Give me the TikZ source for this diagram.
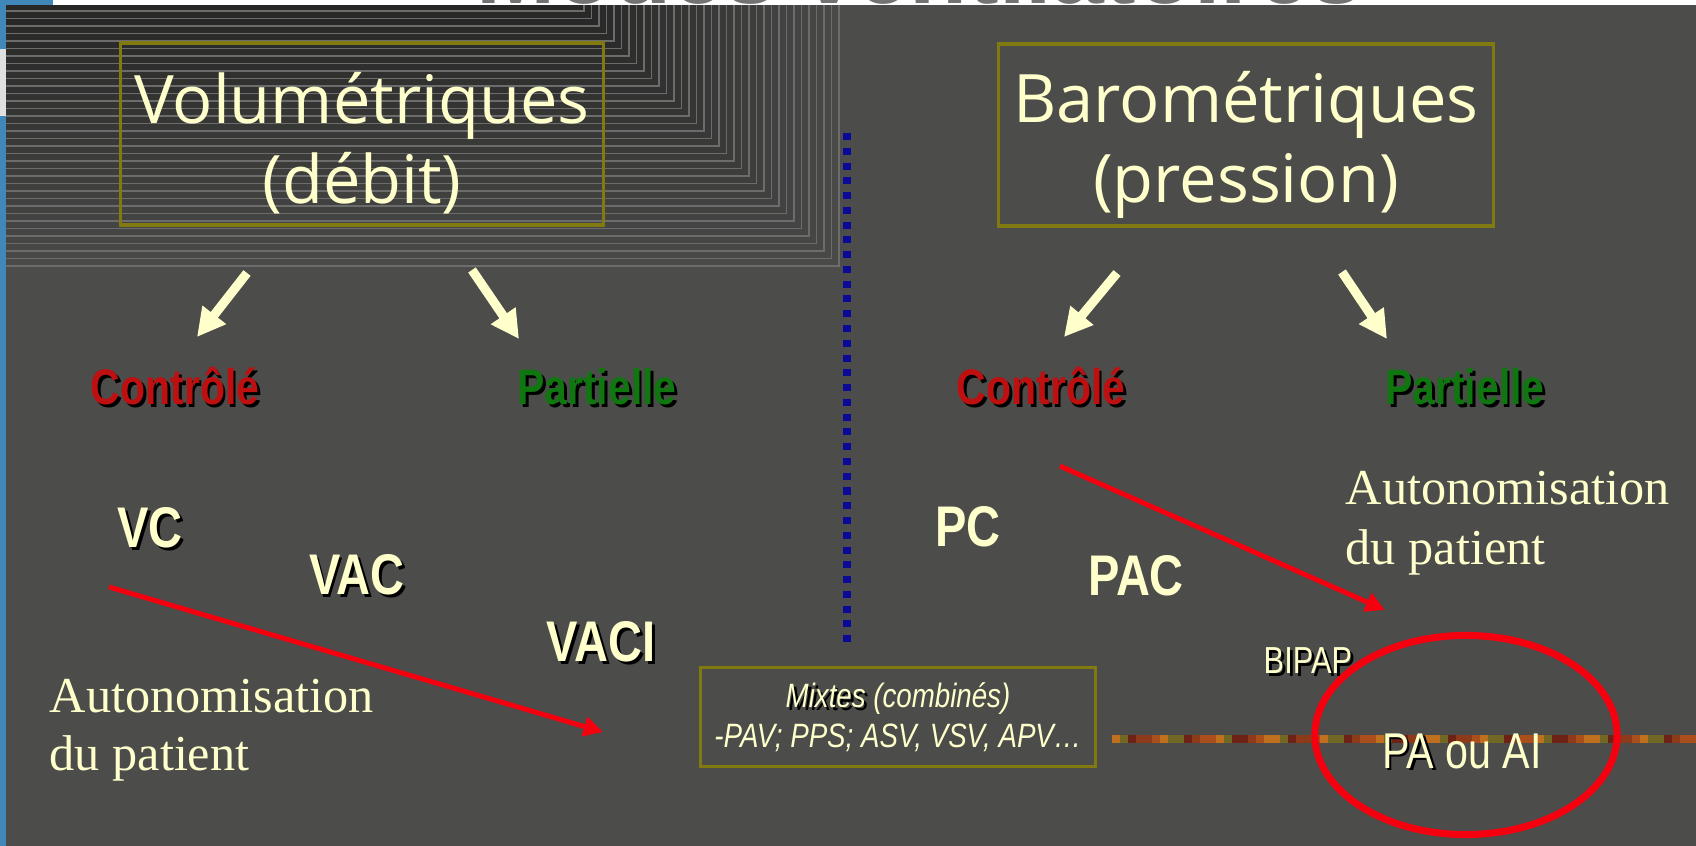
\documentclass[tikz,border=0pt]{standalone}
\usepackage{fontspec}
\usepackage{tikz}
\usetikzlibrary{arrows.meta,positioning,shapes.geometric}
\setmainfont{Liberation Sans}
\newfontfamily\chalkfont{Open Sans}
\newfontfamily\narrowsans[FakeStretch=0.82]{Liberation Sans}
\newfontfamily\bookfont{Liberation Serif}
\definecolor{slate}{RGB}{76,76,75}
\definecolor{cream}{RGB}{255,255,204}
\definecolor{boxolive}{RGB}{128,122,16}
\definecolor{ctrlred}{RGB}{190,16,16}
\definecolor{partgreen}{RGB}{16,118,16}
\definecolor{arrowred}{RGB}{245,0,15}
\definecolor{dotblue}{RGB}{10,10,150}
\definecolor{stripblue}{RGB}{63,136,185}
\definecolor{stripeline}{RGB}{108,108,108}
\definecolor{seg0}{RGB}{190,112,30}
\definecolor{seg1}{RGB}{140,58,26}
\definecolor{seg2}{RGB}{112,104,36}
\definecolor{seg3}{RGB}{170,78,28}
\definecolor{seg4}{RGB}{110,34,22}
\newcommand{\shadowed}[1]{\makebox[0pt][l]{\kern0.8pt\raisebox{-0.8pt}{\textcolor{black}{#1}}}#1}

\begin{document}
\begin{tikzpicture}[x=0.01cm, y=-0.01cm,
    modebox/.style={draw=boxolive, line width=0.9pt, inner sep=0pt, align=center},
    chalk/.style={text=cream, font=\chalkfont\fontsize{19}{22.8}\selectfont},
    head/.style={font=\narrowsans\bfseries\fontsize{14.2}{16}\selectfont, inner sep=0pt, anchor=base},
    mode/.style={text=cream, font=\narrowsans\bfseries\fontsize{16.3}{18}\selectfont, inner sep=0pt, anchor=base},
    book/.style={text=cream, font=\bookfont\fontsize{14.3}{16}\selectfont, inner sep=0pt, anchor=base west},
    plain/.style={text=cream, font=\narrowsans\fontsize{#1}{#1}\selectfont, inner sep=0pt, anchor=base},
    bigarrow/.style={draw=cream, line width=2.6pt, -{Triangle[length=8pt,width=8pt]}},
    redarrow/.style={draw=arrowred, line width=1.4pt, -{Triangle[length=5.5pt,width=5.5pt]}}
]
\useasboundingbox (0,0) rectangle (1696,846);
\fill[white] (0,0) rectangle (1696,846);
\fill[slate] (6,5) rectangle (1696,846);
\fill[stripblue] (0,0) rectangle (6,846);
\fill[stripblue] (0,0) rectangle (53,5);
\fill[black!12] (0,49) rectangle (6,116);
\begin{scope}
  \clip (53,0) rectangle (1696,5);
  \node[text=black!55, font=\bfseries\fontsize{27}{30}\selectfont, inner sep=0pt, anchor=base] (title) at (920,4) {Modes ventilatoires};
\end{scope}
\foreach \i in {0,...,34}{
  \pgfmathsetmacro{\yy}{266-7.5*\i}
  \pgfmathsetmacro{\xx}{573+\yy}
  \pgfmathtruncatemacro{\mix}{97-1.35*\i}
  \fill[slate!\mix!black] (6,5) rectangle (\xx,\yy);
  \draw[stripeline, line width=0.35pt] (6,\yy) -- (\xx,\yy) -- (\xx,5);
}

\node[modebox, chalk, minimum width=4.82cm, minimum height=1.82cm] (vol) at (362,134) {\rule{0pt}{20pt}Volumétriques\\(débit)};
\node[modebox, chalk, minimum width=4.95cm, minimum height=1.82cm] (baro) at (1246,135) {\rule{0pt}{20pt}Barométriques\\(pression)};

\coordinate (volL) at (247,273); \coordinate (volLend) at (197,337);
\coordinate (volR) at (472,270); \coordinate (volRend) at (519,339);
\coordinate (baroL) at (1117,273); \coordinate (baroLend) at (1064,337);
\coordinate (baroR) at (1342,272); \coordinate (baroRend) at (1387,339);
\draw[bigarrow] (volL) -- (volLend);
\draw[bigarrow] (volR) -- (volRend);
\draw[bigarrow] (baroL) -- (baroLend);
\draw[bigarrow] (baroR) -- (baroRend);

\node[head, text=ctrlred] (ctrlV) at (175,405) {\shadowed{Contrôlé}};
\node[head, text=partgreen] (partV) at (597,405) {\shadowed{Partielle}};
\node[head, text=ctrlred] (ctrlB) at (1041,405) {\shadowed{Contrôlé}};
\node[head, text=partgreen] (partB) at (1465,405) {\shadowed{Partielle}};

\coordinate (sepTop) at (847,133); \coordinate (sepBot) at (847,642);
\draw[dotblue, line width=2pt, dash pattern=on 2pt off 2.2pt] (sepTop) -- (sepBot);

\node[mode] (vc) at (150,548) {\shadowed{VC}};
\node[mode] (vac) at (357,595) {\shadowed{VAC}};
\node[mode] (vaci) at (601,662) {\shadowed{VACI}};
\node[mode] (pc) at (968,547) {PC};
\node[mode] (pac) at (1136,596) {PAC};

\coordinate (autoVstart) at (109,587); \coordinate (autoVend) at (603,732);
\coordinate (autoBstart) at (1060,466); \coordinate (autoBend) at (1385,610);
\draw[redarrow] (autoVstart) -- (autoVend);
\draw[redarrow] (autoBstart) -- (autoBend);

\node[book] (autoV) at (49,712) {Autonomisation};
\node[book] (autoV2) at ([yshift=-16.5pt]autoV.base west) {du patient};
\node[book] (autoB) at (1345,505) {Autonomisation};
\node[book] (autoB2) at ([yshift=-17pt]autoB.base west) {du patient};

\node[modebox, text=cream, font=\narrowsans\itshape\fontsize{9.6}{11.4}\selectfont, minimum width=3.95cm, minimum height=0.99cm] (mixte) at (898,717) {\shadowed{Mixtes} (combinés)\\-PAV; PPS; ASV, VSV, APV…};

\foreach \k in {0,...,73}{
  \pgfmathtruncatemacro{\c}{mod(\k*7+int(\k/4)*3,5)}
  \fill[seg\c] (1112+8*\k,735) rectangle (1120+8*\k,743);
}
\node[ellipse, draw=arrowred, line width=2pt, minimum width=3.02cm, minimum height=1.99cm, inner sep=0pt] (ring) at (1466,735) {};
\node[plain=10.7] (bipap) at (1308,674) {\shadowed{BIPAP}};
\node[plain=14.3] (paai) at (1462,768) {\shadowed{PA} ou AI};
\end{tikzpicture}
\end{document}
